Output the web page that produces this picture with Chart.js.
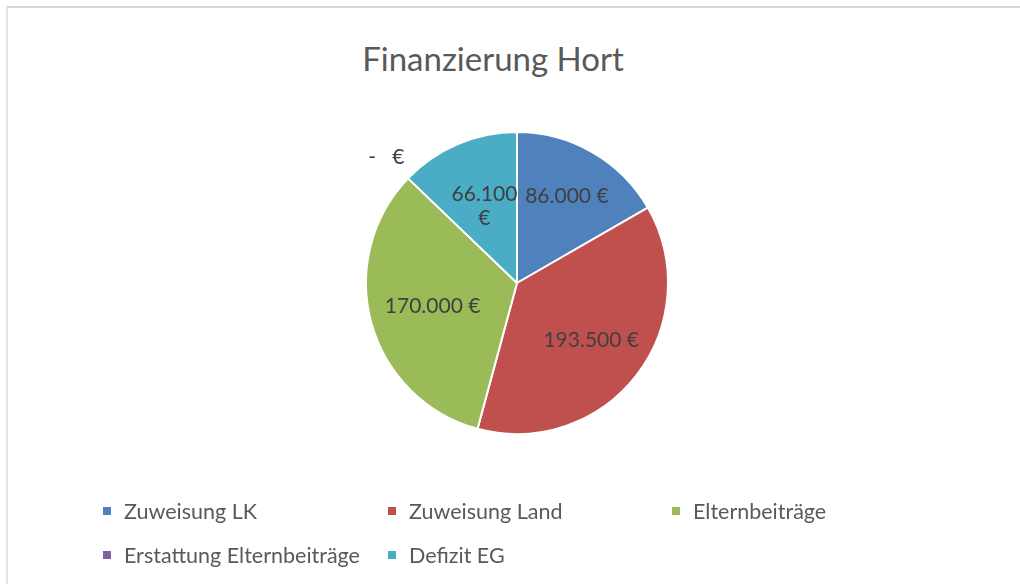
<!DOCTYPE html>
<html>
<head>
<meta charset="utf-8">
<script src="https://cdn.jsdelivr.net/npm/chart.js@4.4.0/dist/chart.umd.min.js"></script>
<style>
  body { margin: 0; background: #fff; }
  #wrap { position: relative; width: 1020px; height: 584px; overflow: hidden; }
  #frame { position: absolute; left: 6px; top: 6px; right: -10px; bottom: -10px;
    border-top: 2px solid #d6d6d6; border-left: 2px solid #e4e4e4; }
  #title { position: absolute; left: 0; width: 986px; top: 38px; text-align: center;
    font: 33px Lato, "Open Sans", sans-serif; color: #595959; }
  #legend { position: absolute; left: 103px; top: 498px; display: grid;
    grid-template-columns: 285px 284px 240px; row-gap: 18px;
    font: 21.5px Lato, "Open Sans", sans-serif; color: #595959; }
  #legend div { display: flex; align-items: center; height: 26px; white-space: nowrap; }
  #legend span.box { width: 8px; height: 8px; margin-right: 13px; display: inline-block; }
  canvas { position: absolute; left: 0; top: 0; }
</style>
</head>
<body>
<div id="wrap">
  <div id="frame"></div>
  <div id="title">Finanzierung Hort</div>
  <canvas id="hortchart" width="1020" height="584"></canvas>
  <div id="legend"></div>
</div>
<script>
const categories = ["Zuweisung LK", "Zuweisung Land", "Elternbeiträge", "Erstattung Elternbeiträge", "Defizit EG"];
const amounts = [86000, 193500, 170000, 0, 66100];
const sliceColors = ["#4F81BD", "#C0504D", "#9BBB59", "#8064A2", "#4BACC6"];

// how far out along the slice each label sits (fraction of radius)
const labelRadius = [0.66, 0.62, 0.58, 1.2, 0.55];

function euro(v) {
  if (v === 0) return "-   €";
  return v.toLocaleString("de-DE") + " €";
}

// value labels like excel
const sliceLabels = {
  id: "sliceLabels",
  afterDatasetsDraw(chart) {
    const ctx = chart.ctx;
    const meta = chart.getDatasetMeta(0);
    ctx.save();
    ctx.font = "21px Lato, 'Open Sans', sans-serif";
    ctx.fillStyle = "#404040";
    ctx.textAlign = "center";
    ctx.textBaseline = "middle";
    meta.data.forEach((arc, i) => {
      const mid = (arc.startAngle + arc.endAngle) / 2;
      const r = arc.outerRadius * labelRadius[i];
      const x = arc.x + Math.cos(mid) * r;
      const y = arc.y + Math.sin(mid) * r;
      const v = amounts[i];
      const span = arc.endAngle - arc.startAngle;
      if (v > 0 && span < 0.9) {
        ctx.fillText(v.toLocaleString("de-DE"), x, y - 12);
        ctx.fillText("€", x, y + 12);
      } else {
        ctx.fillText(euro(v), x, y);
      }
    });
    ctx.restore();
  }
};

const hortCanvas = document.getElementById("hortchart").getContext("2d");
const hortChart = new Chart(hortCanvas, {
  type: "pie",
  data: {
    labels: categories,
    datasets: [
      {
        data: amounts,
        backgroundColor: sliceColors,
        borderColor: "#ffffff",
        borderWidth: 2,
      },
    ],
  },
  options: {
    responsive: false,
    animation: false,
    layout: {
      padding: { left: 365, right: 351, top: 131, bottom: 149 },
    },
    plugins: {
      legend: { display: false },
      tooltip: { enabled: false },
      title: { display: false },
    },
  },
  plugins: [sliceLabels],
});

// legend in columns
const legendBox = document.getElementById("legend");
categories.forEach((name, i) => {
  const item = document.createElement("div");
  const box = document.createElement("span");
  box.className = "box";
  box.style.background = sliceColors[i];
  item.append(box, document.createTextNode(name));
  legendBox.append(item);
});
</script>
</body>
</html>
